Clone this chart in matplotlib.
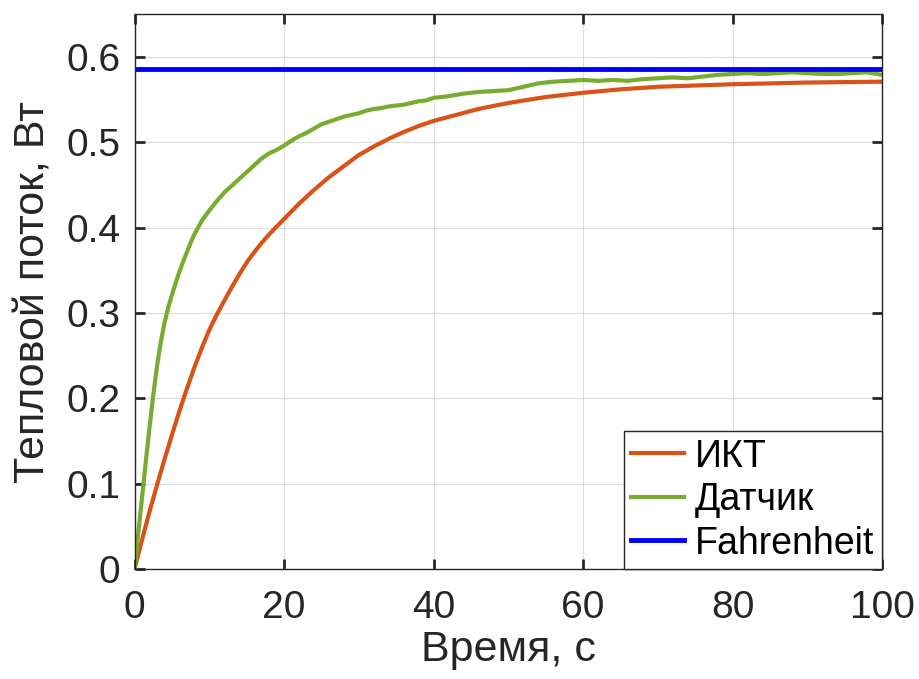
import matplotlib
matplotlib.use('Agg')
import matplotlib.pyplot as plt

plt.rcParams['font.family'] = ['Liberation Sans', 'DejaVu Sans']

# ИКТ (model)
ikt_t = [0, 1, 2, 3, 4, 5, 6, 7, 8, 9, 10, 11, 12, 13, 14, 15, 16, 17, 18, 19, 20,
         22, 24, 26, 28, 30, 32, 34, 36, 38, 40, 43, 46, 50, 55, 60, 65, 70, 80, 90, 100]
ikt_q = [0, 0.034, 0.067, 0.098, 0.128, 0.157, 0.185, 0.211, 0.236, 0.259, 0.280,
         0.298, 0.314, 0.330, 0.345, 0.359, 0.371, 0.382, 0.392, 0.401, 0.410,
         0.428, 0.444, 0.459, 0.472, 0.485, 0.495, 0.504, 0.512, 0.519,
         0.525, 0.532, 0.539, 0.546, 0.553, 0.558, 0.562, 0.565, 0.568, 0.570, 0.571]

# Датчик (sensor)
sens_t = [0, 0.5, 1, 1.5, 2, 2.5, 3, 3.5, 4, 4.5, 5, 5.5, 6, 6.5, 7, 7.5, 8, 9, 10,
          11, 12, 13, 14, 15, 16, 17, 18, 19, 20, 21, 22, 23, 24, 25, 26, 27, 28,
          29, 30, 31, 32, 33, 34, 35, 36, 37, 38, 39, 40, 42, 44, 46, 48, 50, 52,
          54, 56, 58, 60, 62, 64, 66, 68, 70, 72, 74, 76, 78, 80, 82, 84, 86, 88,
          90, 92, 94, 96, 98, 100]
sens_q = [0, 0.042, 0.083, 0.125, 0.165, 0.203, 0.237, 0.265, 0.288, 0.306, 0.321,
          0.335, 0.348, 0.360, 0.371, 0.382, 0.392, 0.408, 0.42, 0.431, 0.441, 0.449,
          0.457, 0.465, 0.473, 0.481, 0.487, 0.491, 0.496, 0.502, 0.507, 0.511,
          0.516, 0.521, 0.524, 0.527, 0.53, 0.532, 0.534, 0.537, 0.539, 0.540,
          0.542, 0.543, 0.544, 0.546, 0.548, 0.549, 0.552, 0.554, 0.557, 0.559,
          0.560, 0.561, 0.565, 0.569, 0.571, 0.572, 0.573, 0.572, 0.573, 0.572,
          0.574, 0.575, 0.576, 0.575, 0.577, 0.579, 0.580, 0.581, 0.580, 0.581,
          0.582, 0.581, 0.580, 0.580, 0.581, 0.582, 0.579]

# Fahrenheit (constant)
fahr_t = [0, 100]
fahr_q = [0.586, 0.586]

xticks = [0, 20, 40, 60, 80, 100]
yticks = [0, 0.1, 0.2, 0.3, 0.4, 0.5, 0.6]
ytick_labels = ['0', '0.1', '0.2', '0.3', '0.4', '0.5', '0.6']

fig = plt.figure(figsize=(9.2, 6.79), dpi=100)
ax = fig.add_axes([0.1462, 0.162, 0.8125, 0.817])

ax.plot(ikt_t, ikt_q, color='#D95319', lw=3, label='ИКТ')
ax.plot(sens_t, sens_q, color='#77AC30', lw=3, label='Датчик')
ax.plot(fahr_t, fahr_q, color='#0000FF', lw=3.5, label='Fahrenheit')

ax.set_xlim(0, 100)
ax.set_ylim(0, 0.65)
ax.set_xticks(xticks)
ax.set_yticks(yticks)
ax.set_yticklabels(ytick_labels)
ax.grid(True, color='#262626', alpha=0.15, lw=0.8)
ax.set_axisbelow(True)

ax.tick_params(direction='in', top=True, right=True, length=7, width=2,
               labelsize=28, colors='#262626')
ax.tick_params(axis='x', pad=15)
ax.tick_params(axis='y', pad=10)
for s in ax.spines.values():
    s.set_color('#262626')
    s.set_linewidth(1.0)

ax.set_xlabel('Время, с', fontsize=31, color='#262626', labelpad=3)
ax.set_ylabel('Тепловой поток, Вт', fontsize=31, color='#262626', labelpad=9)

leg = ax.legend(loc='lower right', fontsize=27, fancybox=False, framealpha=1,
                edgecolor='#262626', borderaxespad=0.0, handlelength=1.4,
                handletextpad=0.3, borderpad=0.2, labelspacing=0.2)
leg.get_frame().set_linewidth(1.0)

fig.savefig('out.png', dpi=100)
